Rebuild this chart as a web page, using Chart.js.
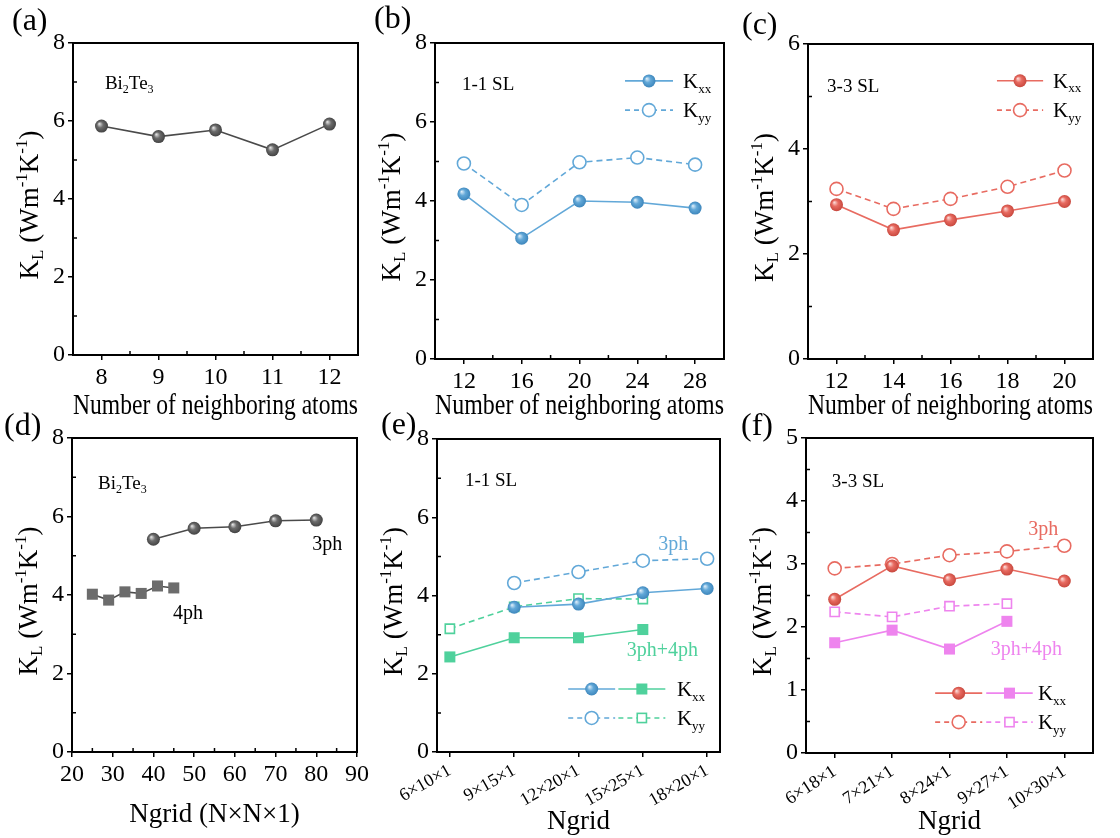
<!DOCTYPE html>
<html>
<head>
<meta charset="utf-8">
<script src="https://cdn.jsdelivr.net/npm/chart.js@4.4.1/dist/chart.umd.min.js"></script>
<style>
  body { margin: 0; background: #fff; }
  #wrap { position: relative; width: 1120px; height: 838px; overflow: hidden; }
  #wrap canvas { position: absolute; }
</style>
</head>
<body>
<div id="wrap"></div>
<script>
// ---- data ----
const nbA = [8, 9, 10, 11, 12];
const klA = [5.87, 5.60, 5.77, 5.26, 5.92];

const nbB = [12, 16, 20, 24, 28];
const kxxB = [4.18, 3.06, 4.00, 3.97, 3.82];
const kyyB = [4.95, 3.90, 4.98, 5.10, 4.92];

const nbC = [12, 14, 16, 18, 20];
const kxxC = [2.94, 2.46, 2.65, 2.82, 3.00];
const kyyC = [3.24, 2.86, 3.05, 3.28, 3.59];

const grid3phD = [40, 50, 60, 70, 80];
const kl3phD = [5.42, 5.70, 5.74, 5.89, 5.91];
const grid4phD = [25, 29, 33, 37, 41, 45];
const kl4phD = [4.02, 3.87, 4.08, 4.04, 4.23, 4.18];

const gridE = ['6×10×1', '9×15×1', '12×20×1', '15×25×1', '18×20×1'];
const kxx3phE = [null, 3.70, 3.78, 4.07, 4.18];
const kyy3phE = [null, 4.32, 4.60, 4.89, 4.94];
const kxx4phE = [2.43, 2.92, 2.92, 3.13, null];
const kyy4phE = [3.15, 3.71, 3.92, 3.91, null];

const gridF = ['6×18×1', '7×21×1', '8×24×1', '9×27×1', '10×30×1'];
const kxx3phF = [2.44, 2.97, 2.75, 2.92, 2.73];
const kyy3phF = [2.93, 3.00, 3.14, 3.20, 3.29];
const kxx4phF = [1.75, 1.95, 1.65, 2.09, null];
const kyy4phF = [2.24, 2.16, 2.33, 2.37, null];

const idx5 = [0, 1, 2, 3, 4];
const yTicks8 = [0, 2, 4, 6, 8];
const yTicks6 = [0, 2, 4, 6];
const yTicks5 = [0, 1, 2, 3, 4, 5];
const xTicksD = [20, 30, 40, 50, 60, 70, 80, 90];

const SERIF = '"Liberation Serif", "Times New Roman", serif';

const gray = { line: '#4a4a4a', fill: '#6c6c6c', light: '#ececec', dark: '#404040' };
const blue = { line: '#62a8d8', fill: '#62a8d8', light: '#e6f2fb', dark: '#3b84ba' };
const green = { line: '#4fd19c', fill: '#4fd19c' };
const red = { line: '#e86b61', fill: '#e86b61', light: '#fde4e1', dark: '#c6463c' };
const pink = { line: '#ee84ee', fill: '#ee84ee' };

// text with _{sub} and ^{sup}
function rich(ctx, s, x, y, size, align, color) {
  const parts = [];
  const re = /([_^])\{([^}]*)\}/g;
  let last = 0, m;
  while ((m = re.exec(s))) {
    if (m.index > last) parts.push([s.slice(last, m.index), 0]);
    parts.push([m[2], m[1] === '_' ? 1 : -1]);
    last = re.lastIndex;
  }
  if (last < s.length) parts.push([s.slice(last), 0]);
  const fontOf = k => (k ? Math.round(size * 0.62) : size) + 'px ' + SERIF;
  let w = 0;
  parts.forEach(p => { ctx.font = fontOf(p[1]); w += ctx.measureText(p[0]).width; });
  let cx = align === 'center' ? x - w / 2 : x;
  ctx.fillStyle = color;
  ctx.textAlign = 'left';
  ctx.textBaseline = 'alphabetic';
  parts.forEach(p => {
    ctx.font = fontOf(p[1]);
    const dy = p[1] === 1 ? size * 0.22 : p[1] === -1 ? -size * 0.38 : 0;
    ctx.fillText(p[0], cx, y + dy);
    cx += ctx.measureText(p[0]).width;
  });
}

function ballFill(ctx, c, px, py, r) {
  const g = ctx.createRadialGradient(px - r * 0.35, py - r * 0.35, 0, px, py, r);
  g.addColorStop(0, c.light);
  g.addColorStop(0.45, c.fill);
  g.addColorStop(1, c.dark);
  return g;
}

function ball(c) {
  return ctx => {
    const ch = ctx.chart;
    if (!ctx.parsed || !ch.scales.x) return c.fill;
    const px = ch.scales.x.getPixelForValue(ctx.parsed.x);
    const py = ch.scales.y.getPixelForValue(ctx.parsed.y);
    if (!isFinite(px) || !isFinite(py)) return c.fill;
    return ballFill(ch.ctx, c, px, py, 6.8);
  };
}

function series(xs, ys, c, kind, dashed) {
  const data = xs.map((x, i) => ({ x: x, y: ys[i] })).filter(d => d.y !== null);
  const open = kind === 'openCircle' || kind === 'openSquare';
  const square = kind === 'square' || kind === 'openSquare';
  return {
    data: data,
    borderColor: c.line,
    borderWidth: 1.6,
    borderDash: dashed ? [6, 4] : [],
    pointStyle: square ? 'rect' : 'circle',
    pointRadius: square ? (open ? 6.5 : 7.8) : 6.5,
    pointBorderWidth: open ? 1.6 : 0,
    pointBorderColor: c.line,
    pointBackgroundColor: open ? '#fff' : (kind === 'ball' ? ball(c) : c.fill),
    fill: false,
    tension: 0,
    clip: false
  };
}

function legendMark(ctx, m, px, py) {
  ctx.setLineDash([]);
  if (m.kind === 'ball') {
    ctx.fillStyle = ballFill(ctx, m.c, px, py, 6.8);
    ctx.beginPath(); ctx.arc(px, py, 6.5, 0, Math.PI * 2); ctx.fill();
  } else if (m.kind === 'openCircle') {
    ctx.fillStyle = '#fff'; ctx.strokeStyle = m.c.line; ctx.lineWidth = 1.6;
    ctx.beginPath(); ctx.arc(px, py, 6.5, 0, Math.PI * 2); ctx.fill(); ctx.stroke();
  } else if (m.kind === 'square') {
    ctx.fillStyle = m.c.fill; ctx.fillRect(px - 5.5, py - 5.5, 11, 11);
  } else {
    ctx.fillStyle = '#fff'; ctx.strokeStyle = m.c.line; ctx.lineWidth = 1.6;
    ctx.fillRect(px - 4.6, py - 4.6, 9.2, 9.2); ctx.strokeRect(px - 4.6, py - 4.6, 9.2, 9.2);
  }
}

function drawDecor(chart, p) {
  const { ctx, chartArea: a } = chart;
  const x = chart.scales.x, y = chart.scales.y;
  ctx.save();
  // box
  ctx.strokeStyle = '#000';
  ctx.lineWidth = 2;
  ctx.strokeRect(a.left, a.top, a.right - a.left, a.bottom - a.top);
  // minor ticks, inward
  ctx.lineWidth = 1.5;
  ctx.beginPath();
  (p.x.minor || []).forEach(v => {
    const px = x.getPixelForValue(v);
    ctx.moveTo(px, a.bottom); ctx.lineTo(px, a.bottom - 4);
  });
  (p.y.minor || []).forEach(v => {
    const py = y.getPixelForValue(v);
    ctx.moveTo(a.left, py); ctx.lineTo(a.left + 4, py);
  });
  ctx.stroke();
  // y title
  ctx.save();
  ctx.translate(a.left - 45, (a.top + a.bottom) / 2 + 6);
  ctx.rotate(-Math.PI / 2);
  rich(ctx, 'K_{L} (Wm^{-1}K^{-1})', 0, 9.5, 27, 'center', '#000');
  ctx.restore();
  // panel tag
  ctx.font = '32px ' + SERIF;
  ctx.fillStyle = '#000';
  ctx.textAlign = 'left';
  ctx.textBaseline = 'middle';
  ctx.fillText(p.tag, p.tagPos[0], p.tagPos[1]);
  // notes
  p.notes.forEach(n => {
    rich(ctx, n.text, x.getPixelForValue(n.x), y.getPixelForValue(n.y) + n.size * 0.35, n.size, 'left', n.color);
  });
  // legend
  (p.legend || []).forEach(row => {
    const py = y.getPixelForValue(row.y);
    row.marks.forEach(m => {
      const x0 = x.getPixelForValue(m.x0), x1 = x.getPixelForValue(m.x1);
      ctx.strokeStyle = m.c.line;
      ctx.lineWidth = 1.6;
      ctx.setLineDash(m.dash ? [5, 4] : []);
      ctx.beginPath(); ctx.moveTo(x0, py); ctx.lineTo(x1, py); ctx.stroke();
      legendMark(ctx, m, (x0 + x1) / 2, py);
    });
    rich(ctx, row.text, x.getPixelForValue(row.tx), py + 7, 21, 'left', '#000');
  });
  ctx.restore();
}

function panel(p) {
  const cv = document.createElement('canvas');
  cv.width = p.box[2];
  cv.height = p.box[3];
  cv.style.left = p.box[0] + 'px';
  cv.style.top = p.box[1] + 'px';
  document.getElementById('wrap').appendChild(cv);

  const grid = { drawOnChartArea: false, color: '#000', lineWidth: 1.5, tickLength: 5 };
  const border = { color: '#000', width: 2 };
  new Chart(cv, {
    type: 'line',
    data: { datasets: p.datasets },
    options: {
      responsive: false,
      animation: false,
      devicePixelRatio: 1,
      layout: { padding: { left: 0, top: p.padTop, right: p.padRight, bottom: 0 } },
      plugins: { legend: { display: false }, tooltip: { enabled: false } },
      scales: {
        x: {
          type: 'linear', min: p.x.min, max: p.x.max, grid: grid, border: border,
          afterBuildTicks: s => { s.ticks = p.x.ticks.map(v => ({ value: v })); },
          afterFit: s => { s.height = p.xH; },
          ticks: {
            color: '#000', padding: 3, autoSkip: false,
            font: { family: SERIF, size: p.x.size || 24 },
            minRotation: p.x.rot || 0, maxRotation: p.x.rot || 0,
            callback: v => p.x.labels ? p.x.labels[v] : v
          },
          title: {
            display: true, text: p.x.title, color: '#000',
            font: { family: SERIF, size: p.x.titleSize || 27 },
            padding: { top: 0, bottom: p.x.titlePad }
          }
        },
        y: {
          type: 'linear', min: p.y.min, max: p.y.max, grid: grid, border: border,
          afterBuildTicks: s => { s.ticks = p.y.ticks.map(v => ({ value: v })); },
          afterFit: s => { s.width = p.yW; },
          ticks: { color: '#000', padding: 3, font: { family: SERIF, size: 24 } }
        }
      }
    },
    plugins: [{ id: 'decor', afterDraw: c => drawDecor(c, p) }]
  });
}

// (a)
panel({
  box: [0, 0, 380, 425], yW: 73, padTop: 43, padRight: 22, xH: 70,
  x: { min: 7.5, max: 12.5, ticks: nbA, minor: [8.5, 9.5, 10.5, 11.5], title: 'Number of neighboring atoms', titleSize: 29, titlePad: 1 },
  y: { min: 0, max: 8, ticks: yTicks8, minor: [1, 3, 5, 7] },
  datasets: [series(nbA, klA, gray, 'ball', false)],
  tag: '(a)', tagPos: [12, 22],
  notes: [{ text: 'Bi_{2}Te_{3}', x: 8.06, y: 7.0, size: 19, color: '#000' }]
});

// (b)
panel({
  box: [370, 0, 378, 425], yW: 65, padTop: 43, padRight: 24, xH: 66,
  x: { min: 10, max: 30, ticks: nbB, minor: [14, 18, 22, 26], title: 'Number of neighboring atoms', titleSize: 29, titlePad: 1 },
  y: { min: 0, max: 8, ticks: yTicks8, minor: [1, 3, 5, 7] },
  datasets: [
    series(nbB, kxxB, blue, 'ball', false),
    series(nbB, kyyB, blue, 'openCircle', true)
  ],
  tag: '(b)', tagPos: [4, 20],
  notes: [{ text: '1-1 SL', x: 11.87, y: 6.99, size: 19, color: '#000' }],
  legend: [
    { y: 7.04, text: 'K_{xx}', tx: 27.16, marks: [{ x0: 23.15, x1: 26.47, c: blue, kind: 'ball' }] },
    { y: 6.30, text: 'K_{yy}', tx: 27.16, marks: [{ x0: 23.15, x1: 26.47, c: blue, kind: 'openCircle', dash: true }] }
  ]
});

// (c)
panel({
  box: [740, 0, 380, 425], yW: 68, padTop: 44, padRight: 27, xH: 66,
  x: { min: 11, max: 21, ticks: nbC, minor: [13, 15, 17, 19], title: 'Number of neighboring atoms', titleSize: 29, titlePad: 1 },
  y: { min: 0, max: 6, ticks: yTicks6, minor: [1, 3, 5] },
  datasets: [
    series(nbC, kxxC, red, 'ball', false),
    series(nbC, kyyC, red, 'openCircle', true)
  ],
  tag: '(c)', tagPos: [2, 26],
  notes: [{ text: '3-3 SL', x: 11.67, y: 5.22, size: 19, color: '#000' }],
  legend: [
    { y: 5.30, text: 'K_{xx}', tx: 19.6, marks: [{ x0: 17.63, x1: 19.25, c: red, kind: 'ball' }] },
    { y: 4.74, text: 'K_{yy}', tx: 19.6, marks: [{ x0: 17.63, x1: 19.25, c: red, kind: 'openCircle', dash: true }] }
  ]
});

// (d)
panel({
  box: [0, 410, 380, 428], yW: 72, padTop: 28, padRight: 23, xH: 86,
  x: { min: 20, max: 90, ticks: xTicksD, minor: [25, 35, 45, 55, 65, 75, 85], title: 'Ngrid (N×N×1)', titlePad: 7 },
  y: { min: 0, max: 8, ticks: yTicks8, minor: [1, 3, 5, 7] },
  datasets: [
    series(grid3phD, kl3phD, gray, 'ball', false),
    series(grid4phD, kl4phD, gray, 'square', false)
  ],
  tag: '(d)', tagPos: [4, 17],
  notes: [
    { text: 'Bi_{2}Te_{3}', x: 26.4, y: 6.88, size: 19, color: '#000' },
    { text: '3ph', x: 79, y: 5.32, size: 20, color: '#000' },
    { text: '4ph', x: 44.8, y: 3.57, size: 20, color: '#000' }
  ]
});

// (e)
panel({
  box: [370, 410, 378, 428], yW: 67, padTop: 29, padRight: 28, xH: 86,
  x: { min: -0.2, max: 4.2, ticks: idx5, labels: gridE, size: 18, rot: 30, title: 'Ngrid', titlePad: 0 },
  y: { min: 0, max: 8, ticks: yTicks8, minor: [1, 3, 5, 7] },
  datasets: [
    series(idx5, kxx3phE, blue, 'ball', false),
    series(idx5, kyy3phE, blue, 'openCircle', true),
    series(idx5, kxx4phE, green, 'square', false),
    series(idx5, kyy4phE, green, 'openSquare', true)
  ],
  tag: '(e)', tagPos: [11, 16],
  notes: [
    { text: '1-1 SL', x: 0.235, y: 6.96, size: 19, color: '#000' },
    { text: '3ph', x: 3.24, y: 5.35, size: 20, color: blue.line },
    { text: '3ph+4ph', x: 2.75, y: 2.62, size: 20, color: green.line }
  ],
  legend: [
    { y: 1.61, text: 'K_{xx}', tx: 3.53, marks: [
      { x0: 1.84, x1: 2.57, c: blue, kind: 'ball' },
      { x0: 2.62, x1: 3.35, c: green, kind: 'square' }] },
    { y: 0.87, text: 'K_{yy}', tx: 3.53, marks: [
      { x0: 1.84, x1: 2.57, c: blue, kind: 'openCircle', dash: true },
      { x0: 2.62, x1: 3.35, c: green, kind: 'openSquare', dash: true }] }
  ]
});

// (f)
panel({
  box: [740, 410, 380, 428], yW: 66, padTop: 28, padRight: 27, xH: 85,
  x: { min: -0.5, max: 4.5, ticks: idx5, labels: gridF, size: 18, rot: 33, title: 'Ngrid', titlePad: 0 },
  y: { min: 0, max: 5, ticks: yTicks5, minor: [0.5, 1.5, 2.5, 3.5, 4.5] },
  datasets: [
    series(idx5, kxx3phF, red, 'ball', false),
    series(idx5, kyy3phF, red, 'openCircle', true),
    series(idx5, kxx4phF, pink, 'square', false),
    series(idx5, kyy4phF, pink, 'openSquare', true)
  ],
  tag: '(f)', tagPos: [1, 17],
  notes: [
    { text: '3-3 SL', x: -0.05, y: 4.33, size: 19, color: '#000' },
    { text: '3ph', x: 3.37, y: 3.57, size: 20, color: red.line },
    { text: '3ph+4ph', x: 2.72, y: 1.67, size: 20, color: pink.line }
  ],
  legend: [
    { y: 0.95, text: 'K_{xx}', tx: 3.54, marks: [
      { x0: 1.75, x1: 2.57, c: red, kind: 'ball' },
      { x0: 2.64, x1: 3.45, c: pink, kind: 'square' }] },
    { y: 0.49, text: 'K_{yy}', tx: 3.54, marks: [
      { x0: 1.75, x1: 2.57, c: red, kind: 'openCircle', dash: true },
      { x0: 2.64, x1: 3.45, c: pink, kind: 'openSquare', dash: true }] }
  ]
});
</script>
</body>
</html>
